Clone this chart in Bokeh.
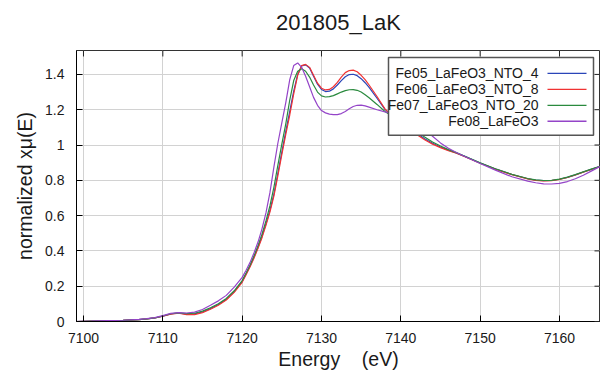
from bokeh.plotting import figure
from bokeh.models import Range1d, SingleIntervalTicker, CustomJSTickFormatter, Label
from bokeh.embed import file_html
from bokeh.resources import INLINE

title_text = "201805_LaK"
x_label = "Energy\u00a0\u00a0\u00a0\u00a0(eV)"
y_label = "normalized x\u03bc(E)"

series_names = ["Fe05_LaFeO3_NTO_4", "Fe06_LaFeO3_NTO_8", "Fe07_LaFeO3_NTO_20", "Fe08_LaFeO3"]

x_ticks = [7100, 7110, 7120, 7130, 7140, 7150, 7160]
y_ticks = [0, 0.2, 0.4, 0.6, 0.8, 1.0, 1.2, 1.4]

energy = [7099, 7101, 7103, 7105, 7107,
          7108, 7109, 7110, 7111, 7112, 7113, 7114, 7115, 7116, 7117, 7118, 7119, 7120,
          7120.5, 7121, 7121.5, 7122, 7122.5, 7123, 7123.5, 7124, 7124.5, 7125, 7125.5, 7126,
          7126.5, 7127, 7127.5, 7128, 7128.5, 7129, 7129.5, 7130, 7130.5, 7131, 7131.5, 7132,
          7132.5, 7133, 7133.5, 7134, 7134.5, 7135, 7135.5, 7136,
          7137, 7138, 7139, 7140, 7141, 7142, 7143, 7144, 7145, 7146, 7147, 7148,
          7150, 7152, 7154, 7156,
          7157, 7158, 7159, 7160, 7161, 7162, 7163, 7164, 7165, 7166]

fe05 = [0.0, 0.002, 0.004, 0.006, 0.011,
        0.015, 0.02, 0.03, 0.043, 0.048, 0.042, 0.043, 0.054, 0.073, 0.096, 0.126, 0.169, 0.226,
        0.27, 0.315, 0.365, 0.42, 0.482, 0.553, 0.63, 0.722, 0.84, 0.96, 1.077, 1.19,
        1.305, 1.40, 1.448, 1.454, 1.436, 1.39, 1.345, 1.315, 1.303, 1.305, 1.318, 1.34,
        1.365, 1.387, 1.399, 1.401, 1.393, 1.376, 1.353, 1.327,
        1.265, 1.202, 1.162, 1.132, 1.10, 1.066, 1.036, 1.01, 0.989, 0.971, 0.955, 0.937,
        0.898, 0.863, 0.833, 0.809,
        0.801, 0.798, 0.799, 0.806, 0.817, 0.831, 0.847, 0.862, 0.877, 0.891]

fe06 = [0.0, 0.002, 0.004, 0.006, 0.011,
        0.015, 0.02, 0.03, 0.042, 0.047, 0.039, 0.039, 0.05, 0.069, 0.092, 0.122, 0.165, 0.222,
        0.265, 0.31, 0.36, 0.415, 0.475, 0.545, 0.62, 0.71, 0.825, 0.945, 1.06, 1.17,
        1.29, 1.395, 1.45, 1.457, 1.44, 1.395, 1.35, 1.322, 1.312, 1.315, 1.33, 1.355,
        1.385, 1.41, 1.422, 1.424, 1.415, 1.395, 1.37, 1.34,
        1.275, 1.205, 1.16, 1.128, 1.095, 1.06, 1.03, 1.005, 0.985, 0.968, 0.953, 0.935,
        0.897, 0.862, 0.832, 0.808,
        0.80, 0.797, 0.798, 0.805, 0.816, 0.83, 0.846, 0.861, 0.876, 0.89]

fe07 = [0.0, 0.002, 0.004, 0.006, 0.011,
        0.015, 0.021, 0.031, 0.044, 0.049, 0.045, 0.047, 0.059, 0.078, 0.101, 0.131, 0.174, 0.232,
        0.275, 0.32, 0.372, 0.43, 0.495, 0.57, 0.655, 0.76, 0.885, 1.005, 1.12, 1.255,
        1.365, 1.418, 1.432, 1.418, 1.385, 1.34, 1.30, 1.278, 1.272, 1.274, 1.28, 1.29,
        1.30, 1.308, 1.313, 1.314, 1.31, 1.30, 1.285, 1.268,
        1.23, 1.19, 1.16, 1.135, 1.106, 1.076, 1.046, 1.017, 0.994, 0.974, 0.957, 0.938,
        0.899, 0.864, 0.834, 0.81,
        0.802, 0.799, 0.80, 0.807, 0.818, 0.832, 0.848, 0.863, 0.878, 0.892]

fe08 = [0.0, 0.002, 0.005, 0.007, 0.012,
        0.016, 0.022, 0.033, 0.046, 0.05, 0.048, 0.053, 0.068, 0.092, 0.117, 0.148, 0.195, 0.25,
        0.29, 0.335, 0.39, 0.45, 0.525, 0.615, 0.73, 0.875, 1.01, 1.125, 1.24, 1.37,
        1.45, 1.465, 1.44, 1.39, 1.33, 1.27, 1.225, 1.195, 1.182, 1.175, 1.172, 1.172,
        1.178, 1.19, 1.205, 1.218, 1.225, 1.226, 1.222, 1.215,
        1.20, 1.188, 1.177, 1.165, 1.15, 1.125, 1.09, 1.05, 1.012, 0.982, 0.958, 0.936,
        0.895, 0.856, 0.82, 0.795,
        0.786, 0.78, 0.779, 0.783, 0.793, 0.809, 0.829, 0.852, 0.876, 0.895]

series_values = [fe05, fe06, fe07, fe08]
colors = ["#2a45b8", "#f03232", "#2a8a3e", "#9444c8"]

# ---- layout (pixels) ----
W, H = 600, 372
FL, FR, FT, FB = 76, 600, 50, 322
X0, X1 = 7099.12, 7165.17
Y0, Y1 = 0.0, 1.5355
FONT = "Liberation Sans"


def dx(px):
    return X0 + (px - FL) / (FR - FL) * (X1 - X0)


def dy(py):
    return Y0 + (FB - py) / (FB - FT) * (Y1 - Y0)


p = figure(width=W, height=H, output_backend="svg", toolbar_location=None,
           x_range=Range1d(X0, X1), y_range=Range1d(Y0, Y1),
           min_border_left=FL, min_border_right=0, min_border_top=FT, min_border_bottom=H - FB,
           background_fill_color="white", border_fill_color="white")

p.title.text = title_text
p.title.align = "center"
p.title.text_font = FONT
p.title.text_font_size = "22px"
p.title.text_font_style = "normal"
p.title.text_color = "#1a1a1a"
p.title.standoff = 10
p.title.padding = dict(left=0, right=0, top=0, bottom=11)

p.outline_line_color = "#333333"
p.outline_line_width = 1

xt = SingleIntervalTicker(interval=10)
yt = SingleIntervalTicker(interval=0.2)
fmt = CustomJSTickFormatter(code="return String(Math.round(tick * 100) / 100);")

for ax, tk in ((p.xaxis[0], xt), (p.yaxis[0], yt)):
    ax.ticker = tk
    ax.formatter = fmt
    ax.major_tick_in = 6
    ax.major_tick_out = 0
    ax.minor_tick_line_color = None
    ax.major_tick_line_color = "black"
    ax.axis_line_color = "black"
    ax.major_label_text_font = FONT
    ax.major_label_text_font_size = "14px"
    ax.major_label_text_color = "#1a1a1a"
    ax.axis_label_text_font = FONT
    ax.axis_label_text_font_size = "19.5px"
    ax.axis_label_text_font_style = "normal"
    ax.axis_label_text_color = "#1a1a1a"

p.xaxis[0].axis_label = x_label
p.xaxis[0].major_label_standoff = 7
p.xaxis[0].axis_label_standoff = 2
p.yaxis[0].axis_label = y_label
p.yaxis[0].major_label_standoff = 8
p.yaxis[0].axis_label_standoff = 6

p.xgrid.ticker = xt
p.ygrid.ticker = yt
for g in (p.xgrid[0], p.ygrid[0]):
    g.grid_line_color = "#d2d2d2"
    g.grid_line_width = 1

# mirrored inward ticks on the top and right frame edges
tick_dx = dx(FL + 6) - dx(FL)
tick_dy = dy(FB - 6) - dy(FB)
p.segment(x0=x_ticks, y0=[Y1] * len(x_ticks), x1=x_ticks, y1=[Y1 - tick_dy] * len(x_ticks),
          line_color="#222222", line_width=1, level="annotation")
p.segment(x0=[X1] * len(y_ticks), y0=y_ticks, x1=[X1 - tick_dx] * len(y_ticks), y1=y_ticks,
          line_color="#222222", line_width=1, level="annotation")

for name, vals, col in zip(series_names, series_values, colors):
    p.line(energy, vals, line_color=col, line_width=1.2)

# ---- legend drawn gnuplot-style (text right-aligned, sample to the right) ----
p.quad(left=[dx(388)], right=[dx(593)], top=[dy(57)], bottom=[dy(135)],
       fill_color="white", fill_alpha=1.0, line_color="#555555", line_width=1.5,
       level="annotation")

row_py = [73, 89, 105, 121]
for name, col, py in zip(series_names, colors, row_py):
    p.add_layout(Label(x=dx(538), y=dy(py), text=name, text_align="right",
                       text_baseline="middle", text_font=FONT, text_font_size="14px",
                       text_color="#1a1a1a", level="overlay"))
    p.segment(x0=[dx(547)], y0=[dy(py)], x1=[dx(586)], y1=[dy(py)],
              line_color=col, line_width=1.3, level="overlay")

open("out.html", "w").write(file_html(p, INLINE))
